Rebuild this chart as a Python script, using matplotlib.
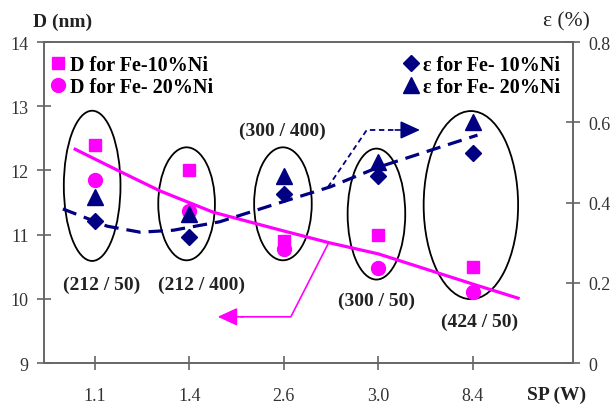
import numpy as np
import matplotlib.pyplot as plt
from matplotlib.patches import Ellipse
from matplotlib.lines import Line2D

plt.rcParams['font.family'] = ['Liberation Serif', 'DejaVu Serif']

# Data
sp_labels = ['1.1', '1.4', '2.6', '3.0', '8.4']
xpos = np.arange(1, 6)
d_fe10 = [12.4, 12.0, 10.9, 11.0, 10.5]      # D (nm), Fe-10%Ni
d_fe20 = [11.85, 11.37, 10.78, 10.48, 10.11]  # D (nm), Fe-20%Ni
eps_fe10 = [0.354, 0.314, 0.421, 0.466, 0.523]  # strain (%), Fe-10%Ni
eps_fe20 = [0.413, 0.371, 0.466, 0.50, 0.60]    # strain (%), Fe-20%Ni

# trend lines
d_trend_x = [0.79, 1.27, 1.69, 2.25, 2.99, 3.49, 4.0, 5.0, 5.48]
d_trend_y = [12.33, 11.98, 11.68, 11.35, 11.06, 10.87, 10.70, 10.23, 10.01]
eps_trend_x = [0.66, 1.13, 1.48, 1.83, 2.32, 2.99, 3.49, 4.0, 4.76, 5.05]
eps_trend_y = [0.384, 0.341, 0.326, 0.331, 0.352, 0.402, 0.439, 0.488, 0.546, 0.568]

# group labels (laser power / frequency)
group_text = ['(212 / 50)', '(212 / 400)', '(300 / 400)', '(300 / 50)', '(424 / 50)']
group_pos = [(1.07, 10.23), (2.13, 10.23), (2.98, 12.62), (3.98, 9.97), (5.07, 9.65)]

# ellipses around groups: (x, y, width, height)
ell = [(0.97, 11.76, 0.60, 2.34), (1.97, 11.48, 0.60, 1.76), (2.99, 11.48, 0.61, 1.76),
       (3.98, 11.32, 0.61, 2.04), (4.98, 11.46, 1.0, 2.93)]

magenta = '#FF00FF'
navy = '#000080'
spine_c = '#666666'

fig = plt.figure(figsize=(6.16, 4.06), dpi=100)
ax = fig.add_axes([0.0714, 0.1034, 0.8586, 0.7906])
ax2 = ax.twinx()

ax.set_xlim(0.46, 6.06)
ax.set_ylim(9, 14)
ax2.set_ylim(0, 0.8)

for e in ell:
    ax.add_patch(Ellipse((e[0], e[1]), e[2], e[3], fill=False, ec='black', lw=1.3, zorder=1))

ax.plot(d_trend_x, d_trend_y, color=magenta, lw=2.3, zorder=2)
ax.plot(xpos, d_fe10, 's', color=magenta, ms=8.5, zorder=3)
ax.plot(xpos, d_fe20, 'o', color=magenta, ms=10, zorder=3)

ax2.plot(eps_trend_x, eps_trend_y, color=navy, lw=2.3, ls=(0, (4.5, 2.5)), zorder=2)
ax2.plot(xpos, eps_fe10, 'D', color=navy, ms=8.5, zorder=3)
ax2.plot(xpos, eps_fe20, '^', color=navy, ms=11, zorder=3)

# arrows pointing to the axes
ax.plot([3.466, 3.074, 2.55], [10.85, 9.72, 9.72], color=magenta, lw=1.2)
ax.annotate('', xy=(2.27, 9.72), xytext=(2.6, 9.72),
            arrowprops=dict(arrowstyle='-|>,head_length=1.2,head_width=0.55',
                            color=magenta, lw=1.2))
ax.plot([3.466, 3.878, 4.2], [11.74, 12.63, 12.63], color=navy, lw=1.3, ls=(0, (3, 2)))
ax.annotate('', xy=(4.47, 12.63), xytext=(4.15, 12.63),
            arrowprops=dict(arrowstyle='-|>,head_length=1.2,head_width=0.55',
                            color=navy, lw=1.2))

for t, (x, y) in zip(group_text, group_pos):
    ax.text(x, y, t, ha='center', va='center', fontsize=14, fontweight='bold', color='#222222')

ax.set_xticks(xpos)
ax.set_xticklabels(sp_labels)
ax.set_yticks(range(9, 15))
ax2.set_yticks([0, 0.2, 0.4, 0.6, 0.8])
ax2.set_yticklabels(['0', '0.2', '0.4', '0.6', '0.8'])

for a in (ax, ax2):
    for s in a.spines.values():
        s.set_color(spine_c)
        s.set_linewidth(1.2)
    a.tick_params(direction='inout', length=10, width=1.2, color=spine_c,
                  labelsize=13, labelcolor='#333333')
ax.tick_params(axis='x', pad=12)
ax.tick_params(axis='y', pad=6)
ax2.tick_params(axis='y', pad=6)

leg_font = dict(size=14.5, weight='bold')
h1 = [Line2D([], [], ls='', marker='s', color=magenta, ms=8.5),
      Line2D([], [], ls='', marker='o', color=magenta, ms=10)]
ax.legend(h1, ['D for Fe-10%Ni', 'D for Fe- 20%Ni'], loc='upper left',
          bbox_to_anchor=(-0.02, 1.015), frameon=False, prop=leg_font,
          handlelength=0.6, handletextpad=0.3, labelspacing=0.1)
h2 = [Line2D([], [], ls='', marker='D', color=navy, ms=8.5),
      Line2D([], [], ls='', marker='^', color=navy, ms=11)]
ax2.legend(h2, ['ε for Fe- 10%Ni', 'ε for Fe- 20%Ni'], loc='upper right',
           bbox_to_anchor=(1.01, 1.015), frameon=False, prop=leg_font,
           handlelength=0.6, handletextpad=0.3, labelspacing=0.1)

fig.text(0.054, 0.946, 'D (nm)', fontsize=14, fontweight='bold', va='center', color='#222222')
fig.text(0.881, 0.946, 'ε (%)', fontsize=15.5, va='center', color='#222222')
fig.text(0.855, 0.027, 'SP (W)', fontsize=14, fontweight='bold', va='center', color='#222222')

fig.savefig('out.png', dpi=100)
